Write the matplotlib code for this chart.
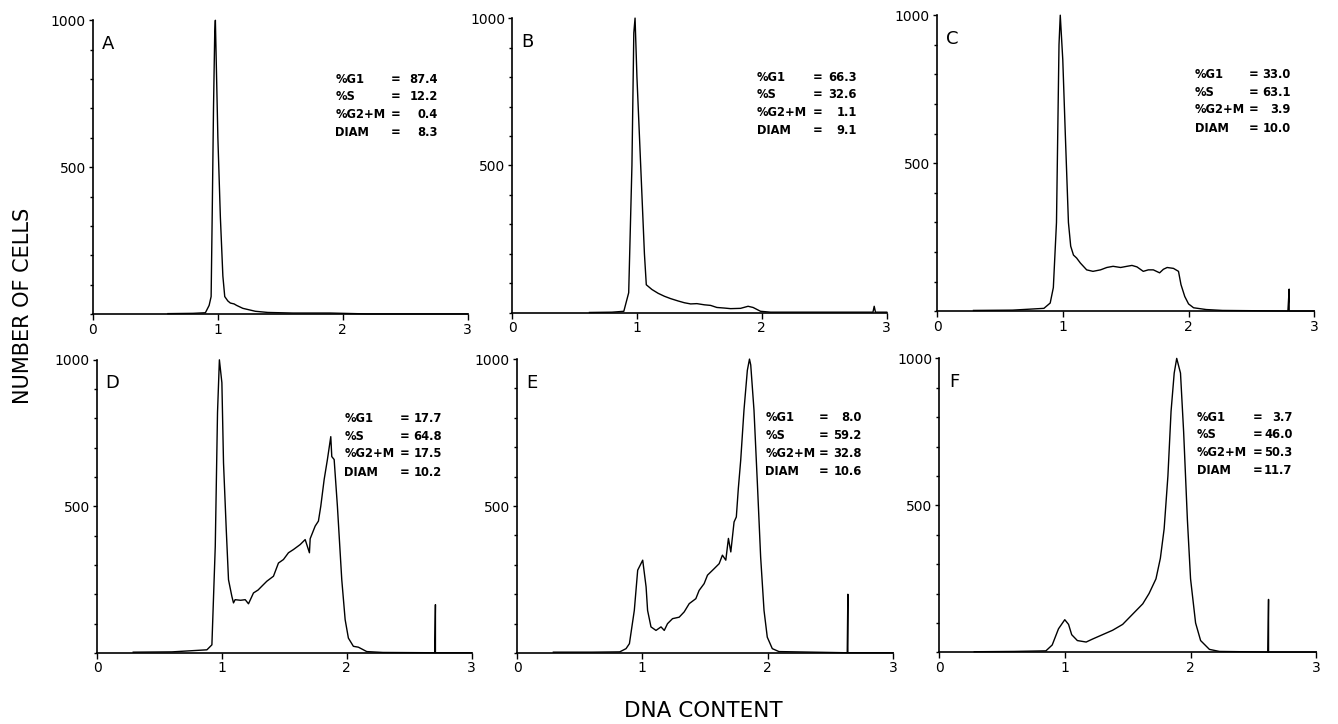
import numpy as np
import matplotlib
matplotlib.use("Agg")
import matplotlib.pyplot as plt
from matplotlib.ticker import MultipleLocator, FixedLocator

# ================================================
# DATA
# ================================================
x_a = [0.60, 0.80, 0.90, 0.93, 0.946, 0.955, 0.965, 0.975, 0.98, 0.99, 1.00, 1.02, 1.04,
       1.055, 1.08, 1.10, 1.13, 1.15, 1.20, 1.30, 1.40, 1.60, 1.90, 2.00, 2.20, 3.00]
y_a = [2, 3, 5, 30, 60, 350, 700, 960, 1000, 800, 600, 330, 130,
       60, 45, 38, 35, 30, 20, 10, 6, 4, 4, 3, 1, 1]

x_b = [0.62, 0.80, 0.895, 0.934, 0.96, 0.975, 0.985, 1.00, 1.02, 1.04, 1.06, 1.075, 1.12,
       1.17, 1.22, 1.27, 1.33, 1.38, 1.43, 1.48, 1.54, 1.59, 1.64, 1.70, 1.75, 1.83, 1.89,
       1.93, 1.99, 2.07, 2.89, 2.90, 2.91, 3.00]
y_b = [1, 2, 5, 68, 500, 950, 1000, 800, 600, 400, 200, 95, 79,
       66, 56, 48, 40, 34, 30, 31, 27, 25, 18, 16, 14, 15, 22,
       18, 5, 2, 2, 22, 2, 2]

x_c = [0.29, 0.60, 0.85, 0.90, 0.925, 0.95, 0.97, 0.98, 1.00, 1.02, 1.045, 1.063, 1.085,
       1.11, 1.14, 1.19, 1.24, 1.30, 1.35, 1.40, 1.46, 1.51, 1.55, 1.59, 1.64, 1.68, 1.72,
       1.77, 1.80, 1.83, 1.88, 1.92, 1.94, 1.97, 2.00, 2.04, 2.14, 2.27, 2.79, 2.80, 2.80,
       2.81, 3.00]
y_c = [3, 4, 10, 28, 80, 300, 900, 1000, 850, 600, 300, 220, 190,
       180, 163, 140, 135, 140, 148, 152, 148, 152, 155, 150, 135, 140, 140,
       130, 142, 148, 145, 135, 90, 50, 25, 12, 6, 3, 1, 75, 1, 1, 1]

x_d = [0.29, 0.60, 0.88, 0.92, 0.947, 0.965, 0.98, 1.00, 1.013, 1.035, 1.053, 1.08, 1.093,
       1.106, 1.15, 1.187, 1.213, 1.253, 1.29, 1.32, 1.36, 1.413, 1.453, 1.493, 1.533,
       1.573, 1.627, 1.667, 1.701, 1.707, 1.747, 1.773, 1.792, 1.819, 1.845, 1.872, 1.88,
       1.899, 1.925, 1.96, 1.987, 2.013, 2.053, 2.093, 2.16, 2.29, 2.705, 2.71, 2.71, 3.00]
y_d = [3, 4, 11, 28, 364, 820, 1000, 922, 649, 421, 250, 193, 171,
       182, 180, 182, 168, 205, 215, 228, 245, 262, 307, 319, 342,
       353, 370, 387, 342, 390, 433, 450, 501, 592, 660, 738, 670,
       660, 501, 250, 114, 51, 23, 20, 5, 2, 1, 165, 1, 1]

x_e = [0.29, 0.60, 0.82, 0.87, 0.897, 0.936, 0.963, 1.003, 1.03, 1.042, 1.069, 1.109, 1.149,
       1.175, 1.201, 1.241, 1.294, 1.334, 1.374, 1.427, 1.453, 1.493, 1.52, 1.573, 1.613,
       1.639, 1.666, 1.687, 1.706, 1.732, 1.75, 1.766, 1.785, 1.811, 1.838, 1.855, 1.865,
       1.891, 1.918, 1.944, 1.971, 1.997, 2.037, 2.09, 2.635, 2.64, 2.64, 3.00]
y_e = [3, 3, 4, 15, 32, 145, 282, 316, 225, 145, 89, 77, 89,
       77, 100, 117, 122, 140, 168, 185, 213, 236, 265, 287, 304,
       333, 316, 390, 344, 446, 463, 560, 656, 826, 962, 1000, 980,
       826, 577, 327, 145, 54, 15, 5, 1, 200, 1, 1]

x_f = [0.28, 0.60, 0.85, 0.90, 0.95, 1.00, 1.03, 1.055, 1.10, 1.17, 1.22, 1.30, 1.38,
       1.46, 1.54, 1.62, 1.67, 1.725, 1.76, 1.79, 1.82, 1.845, 1.87, 1.89, 1.92, 1.945,
       1.975, 2.00, 2.04, 2.08, 2.15, 2.23, 2.615, 2.62, 2.62, 3.00]
y_f = [2, 3, 5, 25, 80, 111, 95, 60, 40, 35, 45, 60, 75,
       95, 130, 165, 200, 250, 320, 420, 600, 820, 950, 1000, 950, 750,
       450, 250, 100, 40, 10, 3, 1, 180, 1, 1]

panel_letters = ["A", "B", "C", "D", "E", "F"]
stat_labels = ["%G1", "%S", "%G2+M", "DIAM"]
stat_values = [
    ["87.4", "12.2", "0.4", "8.3"],
    ["66.3", "32.6", "1.1", "9.1"],
    ["33.0", "63.1", "3.9", "10.0"],
    ["17.7", "64.8", "17.5", "10.2"],
    ["8.0", "59.2", "32.8", "10.6"],
    ["3.7", "46.0", "50.3", "11.7"],
]

series = [(x_a, y_a), (x_b, y_b), (x_c, y_c), (x_d, y_d), (x_e, y_e), (x_f, y_f)]

# axes rectangles in figure fractions [left, bottom, width, height]
rects = [
    [0.0695, 0.566, 0.280, 0.406],
    [0.3827, 0.568, 0.280, 0.407],
    [0.7003, 0.570, 0.282, 0.409],
    [0.0725, 0.098, 0.280, 0.405],
    [0.3864, 0.098, 0.281, 0.406],
    [0.7018, 0.099, 0.282, 0.406],
]
# text column positions (label x, "=" x, value right edge x)
stat_cols = [
    (1.94, 2.42, 2.76),
    (1.96, 2.45, 2.76),
    (2.05, 2.52, 2.81),
    (1.98, 2.46, 2.76),
    (1.98, 2.45, 2.75),
    (2.05, 2.53, 2.81),
]
stat_rows = [800, 740, 680, 617]

fig = plt.figure(figsize=(13.38, 7.24), dpi=100)

for i in range(6):
    ax = fig.add_axes(rects[i])
    xs, ys = series[i]
    ax.plot(xs, ys, color="black", lw=1.0, clip_on=False)

    ax.set_xlim(0, 3)
    ax.set_ylim(0, 1000)
    ax.spines["top"].set_visible(False)
    ax.spines["right"].set_visible(False)
    ax.spines["left"].set_linewidth(1.2)
    ax.spines["bottom"].set_linewidth(1.2)

    ax.xaxis.set_major_locator(FixedLocator([0, 1, 2, 3]))
    ax.set_xticklabels(["0", "1", "2", "3"])
    ax.yaxis.set_major_locator(FixedLocator([500, 1000]))
    ax.set_yticklabels(["500", "1000"])
    ax.yaxis.set_minor_locator(MultipleLocator(100))
    ax.tick_params(axis="x", direction="out", length=4, width=1.0, labelsize=10, pad=2)
    ax.tick_params(axis="y", which="major", direction="out", length=3, width=1.0,
                   labelsize=10, pad=2)
    ax.tick_params(axis="y", which="minor", direction="out", length=2.5, width=1.0)

    ax.text(0.12, 920, panel_letters[i], fontsize=13, ha="center", va="center")

    lx, ex, vx = stat_cols[i]
    for j in range(4):
        yy = stat_rows[j]
        ax.text(lx, yy, stat_labels[j], fontsize=8.3, fontweight="bold", ha="left", va="center")
        ax.text(ex, yy, "=", fontsize=8.3, fontweight="bold", ha="center", va="center")
        ax.text(vx, yy, stat_values[i][j], fontsize=8.3, fontweight="bold", ha="right", va="center")

fig.text(0.017, 0.577, "NUMBER OF CELLS", rotation=90, fontsize=15, ha="center", va="center")
fig.text(0.526, 0.018, "DNA CONTENT", fontsize=15.5, ha="center", va="center")

fig.savefig("out.png", dpi=100, facecolor="white")
